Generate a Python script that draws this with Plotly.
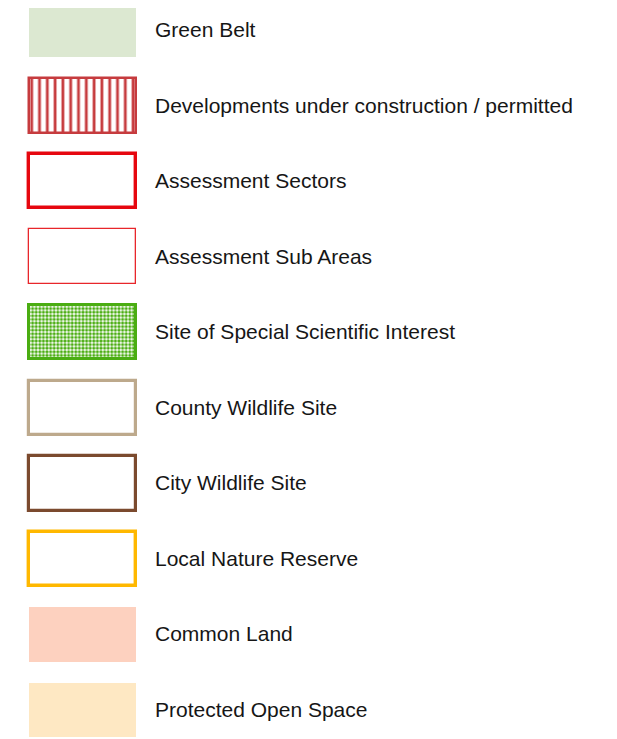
import plotly.graph_objects as go

# Legend items (top to bottom)
labels = [
    "Green Belt",
    "Developments under construction / permitted",
    "Assessment Sectors",
    "Assessment Sub Areas",
    "Site of Special Scientific Interest",
    "County Wildlife Site",
    "City Wildlife Site",
    "Local Nature Reserve",
    "Common Land",
    "Protected Open Space",
]
# Each swatch spans the full unit width of the swatch axis
swatch_extent = [1, 1, 1, 1, 1, 1, 1, 1, 1, 1]

fill_colors = ["#dce8d1", "#ffffff", "#ffffff", "#ffffff", "#ffffff",
               "#ffffff", "#ffffff", "#ffffff", "#fdd1bf", "#fee8c3"]
edge_colors = ["#dce8d1", "#c63b3e", "#e6070f", "#e8262b", "#4aad12",
               "#bda98c", "#7b4a2e", "#ffb800", "#fdd1bf", "#fee8c3"]
edge_widths = [0, 2.5, 3.4, 1.3, 3.0, 3.2, 3.2, 3.4, 0, 0]
pattern_shapes = ["", "|", "", "", ".", "", "", "", "", ""]
pattern_colors = ["#ffffff", "#c63b3e", "#ffffff", "#ffffff", "#4aad12",
                  "#ffffff", "#ffffff", "#ffffff", "#ffffff", "#ffffff"]
pattern_sizes = [8, 7.8, 8, 8, 3.6, 8, 8, 8, 8, 8]
pattern_solid = [0.3, 0.36, 0.3, 0.3, 0.6, 0.3, 0.3, 0.3, 0.3, 0.3]

fig = go.Figure()
for i, lab in enumerate(labels):
    marker = dict(
        color=fill_colors[i],
        line=dict(color=edge_colors[i], width=edge_widths[i]),
    )
    if pattern_shapes[i]:
        marker["pattern"] = dict(
            shape=pattern_shapes[i],
            fgcolor=pattern_colors[i],
            bgcolor=fill_colors[i],
            size=pattern_sizes[i],
            solidity=pattern_solid[i],
            fillmode="replace",
        )
    fig.add_trace(go.Bar(
        y=[lab],
        x=[swatch_extent[i]],
        base=0,
        orientation="h",
        width=0.72,
        marker=marker,
        hoverinfo="skip",
        showlegend=False,
    ))
    fig.add_annotation(
        x=1, y=lab, xref="x", yref="y",
        text=lab, showarrow=False,
        xanchor="left", yanchor="middle", xshift=16.5, yshift=0.5,
        font=dict(family="Liberation Sans, Arial, sans-serif", size=21, color="#161616"),
    )

fig.update_layout(
    width=617, height=739,
    margin=dict(l=12, r=480, t=0, b=0, pad=0),
    paper_bgcolor="white", plot_bgcolor="white",
    barmode="overlay",
    xaxis=dict(range=[-0.0789, 1.0807], visible=False, fixedrange=True),
    yaxis=dict(range=[9.489, -0.291], visible=False, type="category",
               categoryorder="array", categoryarray=labels, fixedrange=True),
    bargap=0,
)

fig.write_html("out.html")
